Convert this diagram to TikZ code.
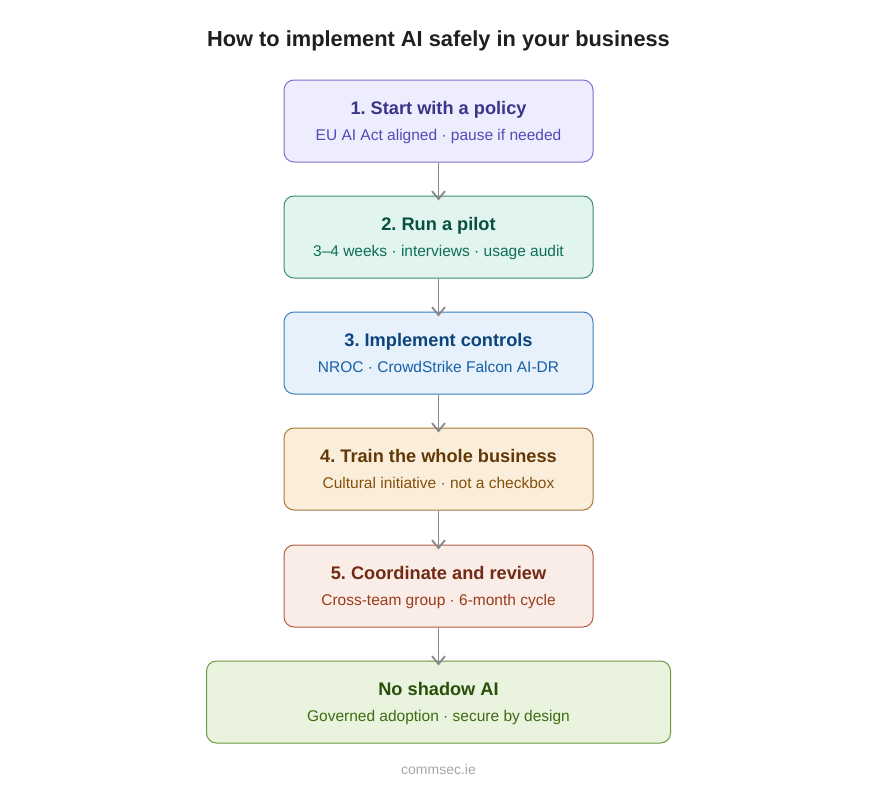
\documentclass[tikz,border=0pt]{standalone}
\usepackage{fontspec}
\setmainfont{Liberation Sans}
\usetikzlibrary{arrows.meta}
\definecolor{f1}{HTML}{EEEDFE}\definecolor{d1}{HTML}{7D70D0}\definecolor{t1}{HTML}{3C3489}\definecolor{s1}{HTML}{534AB7}
\definecolor{f2}{HTML}{E1F5EE}\definecolor{d2}{HTML}{3A8C70}\definecolor{t2}{HTML}{085041}\definecolor{s2}{HTML}{0F6E56}
\definecolor{f3}{HTML}{E6F1FB}\definecolor{d3}{HTML}{3F7DC0}\definecolor{t3}{HTML}{0C447C}\definecolor{s3}{HTML}{185FA5}
\definecolor{f4}{HTML}{FAEEDA}\definecolor{d4}{HTML}{A9773A}\definecolor{t4}{HTML}{633806}\definecolor{s4}{HTML}{854F0B}
\definecolor{f5}{HTML}{FAECE7}\definecolor{d5}{HTML}{B75C44}\definecolor{t5}{HTML}{712B13}\definecolor{s5}{HTML}{993C1D}
\definecolor{f6}{HTML}{EAF3DE}\definecolor{d6}{HTML}{6B9A42}\definecolor{t6}{HTML}{27500A}\definecolor{s6}{HTML}{3B6D11}
\definecolor{arr}{HTML}{888888}
\frenchspacing
\begin{document}
\begin{tikzpicture}[x=1pt,y=-1pt,
  box/.style={draw, line width=1pt, rounded corners=10pt, minimum height=82pt, inner sep=0pt},
  hd/.style={font=\fontsize{18.2}{21}\selectfont\bfseries, anchor=base},
  sb/.style={font=\fontsize{15.5}{18}\selectfont, anchor=base},
  conn/.style={draw=arr, line width=1.8pt, -{Straight Barb[length=8pt,width=13pt,line width=1.8pt]}}]
\useasboundingbox (0,0) rectangle (877,800);
\fill[white] (0,0) rectangle (877,800);
\node[font=\fontsize{21.8}{26}\selectfont\bfseries, text=black!88, anchor=base] (title) at (438.5,46.5) {How to implement AI safely in your business};

\node[box, fill=f1, draw=d1, minimum width=309pt] (b1) at (438.5,121) {};
\node[hd, text=t1] (h1) at (438.5,114.5) {1. Start with a policy};
\node[sb, text=s1] (s1) at (438.5,140.5) {EU AI Act aligned · pause if needed};

\node[box, fill=f2, draw=d2, minimum width=309pt] (b2) at (438.5,237) {};
\node[hd, text=t2] (h2) at (438.5,230.5) {2. Run a pilot};
\node[sb, text=s2] (s2) at (438.5,256.5) {3–4 weeks · interviews · usage audit};

\node[box, fill=f3, draw=d3, minimum width=309pt] (b3) at (438.5,353) {};
\node[hd, text=t3] (h3) at (438.5,346.5) {3. Implement controls};
\node[sb, text=s3] (s3) at (438.5,372.5) {NROC · CrowdStrike Falcon AI-DR};

\node[box, fill=f4, draw=d4, minimum width=309pt] (b4) at (438.5,469) {};
\node[hd, text=t4] (h4) at (438.5,462.5) {4. Train the whole business};
\node[sb, text=s4] (s4) at (438.5,488.5) {Cultural initiative · not a checkbox};

\node[box, fill=f5, draw=d5, minimum width=309pt] (b5) at (438.5,586) {};
\node[hd, text=t5] (h5) at (438.5,579.5) {5. Coordinate and review};
\node[sb, text=s5] (s5) at (438.5,605.5) {Cross-team group · 6-month cycle};

\node[box, fill=f6, draw=d6, minimum width=464pt] (b6) at (438.5,702) {};
\node[hd, text=t6] (h6) at (438.5,695.5) {No shadow AI};
\node[sb, text=s6] (s6) at (438.5,721.5) {Governed adoption · secure by design};

\node[font=\fontsize{14}{17}\selectfont, text=black!35] (foot) at (438.5,769) {commsec.ie};

\draw[conn] (b1.south) -- ([yshift=-5pt]b2.north);
\draw[conn] (b2.south) -- ([yshift=-5pt]b3.north);
\draw[conn] (b3.south) -- ([yshift=-5pt]b4.north);
\draw[conn] (b4.south) -- ([yshift=-5pt]b5.north);
\draw[conn] (b5.south) -- ([yshift=-5pt]b6.north);
\end{tikzpicture}
\end{document}
